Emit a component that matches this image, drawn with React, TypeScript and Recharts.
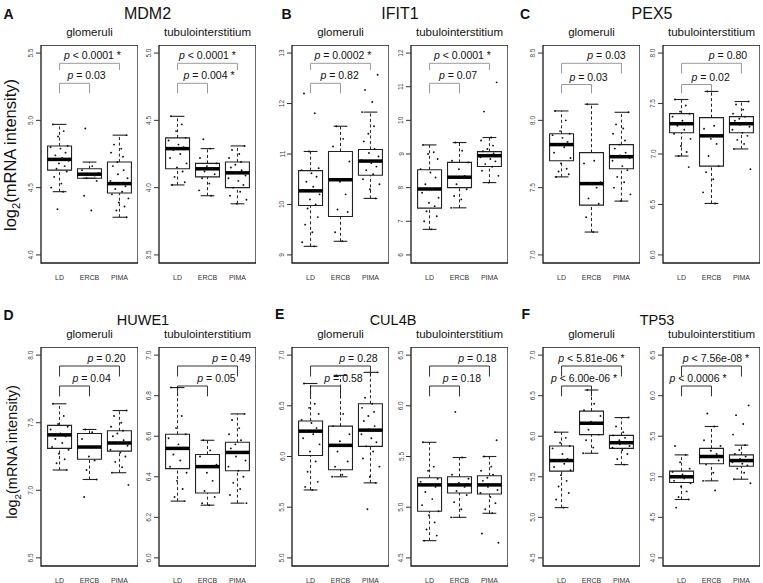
import React from 'react';
import { ComposedChart, XAxis, YAxis, Scatter, ReferenceArea, ReferenceLine, ReferenceDot } from 'recharts';

const GROUPS = ['LD', 'ERCB', 'PIMA'];

// Box stats per group: [lower whisker, Q1, median, Q3, upper whisker]
// ---------- A  MDM2 ----------
const mdm2GlomTicks = ['4.0', '4.5', '5.0', '5.5'];
const mdm2GlomBox = [[4.47, 4.63, 4.71, 4.81, 4.97], [4.57, 4.57, 4.60, 4.64, 4.69], [4.28, 4.46, 4.53, 4.69, 4.89]];
const mdm2GlomDots = [
  [4.97, 4.92, 4.88, 4.81, 4.80, 4.79, 4.76, 4.74, 4.72, 4.71, 4.70, 4.68, 4.66, 4.64, 4.62, 4.58, 4.53, 4.50, 4.47, 4.34],
  [4.94, 4.66, 4.63, 4.61, 4.60, 4.59, 4.57, 4.55, 4.44, 4.33],
  [4.89, 4.82, 4.79, 4.76, 4.73, 4.69, 4.66, 4.63, 4.60, 4.57, 4.55, 4.53, 4.51, 4.49, 4.47, 4.45, 4.42, 4.39, 4.36, 4.33, 4.28],
];
const mdm2GlomP = ['p = 0.03', 'p < 0.0001 *'];

const mdm2TubTicks = ['3.5', '4.0', '4.5', '5.0'];
const mdm2TubBox = [[4.02, 4.14, 4.29, 4.37, 4.53], [3.94, 4.08, 4.14, 4.18, 4.29], [3.88, 4.00, 4.11, 4.19, 4.31]];
const mdm2TubDots = [
  [4.53, 4.47, 4.42, 4.37, 4.35, 4.32, 4.30, 4.28, 4.25, 4.22, 4.18, 4.15, 4.12, 4.08, 4.04, 4.02],
  [4.36, 4.29, 4.22, 4.18, 4.16, 4.14, 4.12, 4.10, 4.07, 4.03, 3.98, 3.94],
  [4.31, 4.28, 4.25, 4.22, 4.19, 4.17, 4.15, 4.13, 4.11, 4.09, 4.07, 4.05, 4.02, 4.00, 3.97, 3.94, 3.91, 3.88],
];
const mdm2TubP = ['p = 0.004 *', 'p < 0.0001 *'];

// ---------- B  IFIT1 ----------
const ifit1GlomTicks = ['9', '10', '11', '12', '13'];
const ifit1GlomBox = [[9.17, 9.98, 10.27, 10.67, 11.05], [9.27, 9.76, 10.49, 11.05, 11.55], [10.12, 10.58, 10.86, 11.09, 11.83]];
const ifit1GlomDots = [
  [12.20, 11.81, 11.05, 10.72, 10.68, 10.62, 10.55, 10.45, 10.35, 10.27, 10.20, 10.10, 10.00, 9.92, 9.75, 9.60, 9.45, 9.25, 9.17],
  [11.55, 11.30, 11.15, 10.85, 10.45, 10.20, 9.90, 9.85, 9.45, 9.27],
  [12.57, 12.27, 12.03, 11.83, 11.55, 11.40, 11.25, 11.10, 11.02, 10.95, 10.88, 10.82, 10.75, 10.68, 10.60, 10.50, 10.40, 10.30, 10.12],
];
const ifit1GlomP = ['p = 0.82', 'p = 0.0002 *'];

const ifit1TubTicks = ['6', '7', '8', '9', '10', '11', '12'];
const ifit1TubBox = [[6.76, 7.39, 7.96, 8.53, 9.27], [7.40, 8.00, 8.31, 8.75, 9.34], [8.15, 8.63, 8.95, 9.07, 9.49]];
const ifit1TubDots = [
  [9.27, 9.05, 9.00, 8.85, 8.55, 8.45, 8.30, 8.10, 7.96, 7.85, 7.70, 7.55, 7.45, 7.30, 7.15, 7.00, 6.76],
  [9.34, 9.10, 8.80, 8.75, 8.55, 8.35, 8.10, 7.95, 7.75, 7.65, 7.40],
  [11.13, 10.26, 9.49, 9.40, 9.25, 9.15, 9.08, 9.02, 8.98, 8.95, 8.90, 8.85, 8.78, 8.70, 8.62, 8.50, 8.35, 8.15],
];
const ifit1TubP = ['p = 0.07', 'p < 0.0001 *'];

// ---------- C  PEX5 ----------
const pex5GlomTicks = ['7.0', '7.5', '8.0', '8.5'];
const pex5GlomBox = [[7.58, 7.70, 7.82, 7.90, 8.07], [7.17, 7.37, 7.53, 7.76, 8.12], [7.40, 7.64, 7.73, 7.82, 8.06]];
const pex5GlomDots = [
  [8.07, 8.00, 7.92, 7.90, 7.89, 7.87, 7.84, 7.82, 7.80, 7.76, 7.72, 7.68, 7.64, 7.62, 7.60, 7.58],
  [8.12, 7.70, 7.68, 7.54, 7.53, 7.50, 7.42, 7.38, 7.28, 7.17],
  [8.06, 7.97, 7.94, 7.90, 7.85, 7.82, 7.79, 7.76, 7.74, 7.72, 7.70, 7.66, 7.63, 7.58, 7.54, 7.50, 7.45, 7.40],
];
const pex5GlomP = ['p = 0.03', 'p = 0.03'];

const pex5TubTicks = ['6.0', '6.5', '7.0', '7.5', '8.0'];
const pex5TubBox = [[6.98, 7.21, 7.30, 7.40, 7.54], [6.51, 6.88, 7.18, 7.36, 7.62], [7.05, 7.21, 7.30, 7.37, 7.52]];
const pex5TubDots = [
  [7.54, 7.48, 7.42, 7.40, 7.37, 7.33, 7.30, 7.28, 7.24, 7.20, 7.15, 7.08, 7.02, 6.98, 6.87],
  [7.62, 7.28, 7.25, 7.18, 7.15, 7.10, 6.98, 6.88, 6.82, 6.75, 6.62, 6.51],
  [7.52, 7.49, 7.44, 7.40, 7.37, 7.35, 7.33, 7.31, 7.29, 7.27, 7.24, 7.21, 7.18, 7.14, 7.10, 7.05, 6.85],
];
const pex5TubP = ['p = 0.02', 'p = 0.80'];

// ---------- D  HUWE1 ----------
const huwe1GlomTicks = ['6.5', '7.0', '7.5', '8.0'];
const huwe1GlomBox = [[7.15, 7.31, 7.41, 7.48, 7.64], [7.08, 7.23, 7.32, 7.42, 7.45], [7.13, 7.29, 7.35, 7.44, 7.59]];
const huwe1GlomDots = [
  [7.64, 7.55, 7.49, 7.47, 7.45, 7.42, 7.40, 7.38, 7.35, 7.32, 7.30, 7.27, 7.23, 7.20, 7.15],
  [7.45, 7.43, 7.38, 7.32, 7.25, 7.22, 7.15, 7.08, 6.95],
  [7.59, 7.55, 7.50, 7.47, 7.44, 7.42, 7.40, 7.37, 7.35, 7.33, 7.30, 7.28, 7.25, 7.21, 7.17, 7.13, 7.04],
];
const huwe1GlomP = ['p = 0.04', 'p = 0.20'];

const huwe1TubTicks = ['6.0', '6.2', '6.4', '6.6', '6.8', '7.0'];
const huwe1TubBox = [[6.28, 6.44, 6.54, 6.61, 6.84], [6.26, 6.32, 6.45, 6.51, 6.58], [6.27, 6.43, 6.52, 6.57, 6.71]];
const huwe1TubDots = [
  [6.84, 6.70, 6.64, 6.61, 6.59, 6.56, 6.54, 6.51, 6.48, 6.45, 6.42, 6.38, 6.34, 6.30, 6.28],
  [6.58, 6.53, 6.50, 6.46, 6.42, 6.38, 6.33, 6.30, 6.27, 6.26],
  [6.71, 6.68, 6.64, 6.61, 6.58, 6.56, 6.54, 6.52, 6.50, 6.48, 6.45, 6.43, 6.40, 6.37, 6.34, 6.31, 6.27],
];
const huwe1TubP = ['p = 0.05', 'p = 0.49'];

// ---------- E  CUL4B ----------
const cul4bGlomTicks = ['5.0', '5.5', '6.0', '6.5', '7.0'];
const cul4bGlomBox = [[5.67, 6.01, 6.25, 6.35, 6.72], [5.80, 5.87, 6.11, 6.30, 6.80], [5.74, 6.10, 6.26, 6.52, 6.83]];
const cul4bGlomDots = [
  [6.72, 6.52, 6.48, 6.42, 6.36, 6.33, 6.28, 6.25, 6.22, 6.18, 6.12, 6.05, 5.95, 5.85, 5.75, 5.70, 5.67],
  [6.80, 6.42, 6.30, 6.22, 6.15, 6.11, 6.05, 5.95, 5.90, 5.82, 5.80],
  [6.83, 6.58, 6.52, 6.48, 6.44, 6.40, 6.35, 6.30, 6.27, 6.25, 6.22, 6.18, 6.14, 6.10, 6.05, 5.98, 5.90, 5.80, 5.74, 5.48],
];
const cul4bGlomP = ['p = 0.58', 'p = 0.28'];

const cul4bTubTicks = ['4.5', '5.0', '5.5', '6.0', '6.5'];
const cul4bTubBox = [[4.67, 4.96, 5.22, 5.29, 5.64], [4.90, 5.14, 5.22, 5.30, 5.49], [4.94, 5.13, 5.22, 5.31, 5.50]];
const cul4bTubDots = [
  [5.64, 5.40, 5.36, 5.28, 5.25, 5.22, 5.20, 5.15, 5.08, 5.02, 4.96, 4.92, 4.85, 4.78, 4.72, 4.67],
  [5.94, 5.49, 5.32, 5.28, 5.24, 5.20, 5.16, 5.12, 5.05, 4.98, 4.90],
  [5.66, 5.50, 5.40, 5.36, 5.32, 5.29, 5.26, 5.23, 5.20, 5.17, 5.14, 5.10, 5.04, 4.98, 4.94, 4.74, 4.65],
];
const cul4bTubP = ['p = 0.18', 'p = 0.18'];

// ---------- F  TP53 ----------
const tp53GlomTicks = ['4.5', '5.0', '5.5', '6.0', '6.5', '7.0'];
const tp53GlomBox = [[5.12, 5.57, 5.70, 5.88, 6.05], [5.79, 6.02, 6.16, 6.31, 6.57], [5.65, 5.85, 5.92, 6.01, 6.23]];
const tp53GlomDots = [
  [6.05, 5.98, 5.92, 5.88, 5.85, 5.78, 5.72, 5.70, 5.66, 5.62, 5.58, 5.52, 5.45, 5.38, 5.30, 5.22, 5.12],
  [6.57, 6.40, 6.32, 6.25, 6.18, 6.15, 6.08, 6.02, 5.95, 5.86, 5.79],
  [6.23, 6.12, 6.05, 6.01, 5.98, 5.95, 5.93, 5.91, 5.90, 5.88, 5.86, 5.83, 5.78, 5.72, 5.65],
];
const tp53GlomP = ['p < 6.00e-06 *', 'p < 5.81e-06 *'];

const tp53TubTicks = ['4.0', '4.5', '5.0', '5.5', '6.0', '6.5'];
const tp53TubBox = [[4.72, 4.93, 5.00, 5.07, 5.27], [4.95, 5.16, 5.25, 5.35, 5.62], [4.97, 5.13, 5.20, 5.27, 5.39]];
const tp53TubDots = [
  [5.38, 5.27, 5.18, 5.10, 5.06, 5.03, 5.01, 5.00, 4.98, 4.95, 4.92, 4.88, 4.82, 4.75, 4.72, 4.62],
  [5.78, 5.62, 5.45, 5.38, 5.32, 5.28, 5.25, 5.20, 5.15, 5.05, 4.95, 4.83],
  [5.88, 5.76, 5.65, 5.52, 5.39, 5.33, 5.28, 5.25, 5.22, 5.20, 5.18, 5.16, 5.14, 5.10, 5.05, 4.97, 4.92],
];
const tp53TubP = ['p < 0.0006 *', 'p < 7.56e-08 *'];

const GENES = ['MDM2', 'IFIT1', 'PEX5', 'HUWE1', 'CUL4B', 'TP53'];
const LETTERS = ['A', 'B', 'C', 'D', 'E', 'F'];
const TISSUES = ['glomeruli', 'tubulointerstitium'];
const Y_LABEL = ['log', '2', '(mRNA intensity)'];

// ---------- layout / style ----------
const FONT = '"Liberation Sans", Arial, Helvetica, sans-serif';
const JITTER = [-0.22, 0.14, -0.05, 0.27, -0.3, 0.03, 0.2, -0.14, 0.09, -0.25, 0.3, -0.02, 0.17, -0.1, 0.24, -0.18, 0.06, -0.28, 0.12, -0.07];
const XMIN = 0.38;
const XMAX = 3.62;
const YW = 24;
const XH = 20;
const FW = 97;
const COL_G = [41, 292, 543];
const COL_T = [159, 411, 663];
const ROWS = [{ top: 45, h: 218 }, { top: 347, h: 219 }];
const BR_AB = [18.3, 25, 38.3, 48.3];
const BR_C = [18.3, 28.5, 39.5, 48.3];
const BR_2 = [19, 29.5, 39, 49.3];

const PANELS = [
  { d: { t: mdm2GlomTicks, b: mdm2GlomBox, s: mdm2GlomDots, p: mdm2GlomP }, col: 0, row: 0, tis: 0, br: BR_AB, tx: [1.9, 2.1], bc: '#9a9a9a' },
  { d: { t: mdm2TubTicks, b: mdm2TubBox, s: mdm2TubDots, p: mdm2TubP }, col: 0, row: 0, tis: 1, br: BR_AB, tx: [2.05, 2.0], bc: '#9a9a9a' },
  { d: { t: ifit1GlomTicks, b: ifit1GlomBox, s: ifit1GlomDots, p: ifit1GlomP }, col: 1, row: 0, tis: 0, br: BR_AB, tx: [1.97, 2.08], bc: '#9a9a9a' },
  { d: { t: ifit1TubTicks, b: ifit1TubBox, s: ifit1TubDots, p: ifit1TubP }, col: 1, row: 0, tis: 1, br: BR_AB, tx: [1.95, 2.1], bc: '#9a9a9a' },
  { d: { t: pex5GlomTicks, b: pex5GlomBox, s: pex5GlomDots, p: pex5GlomP }, col: 2, row: 0, tis: 0, br: BR_C, tx: [1.9, 2.5], bc: '#9a9a9a' },
  { d: { t: pex5TubTicks, b: pex5TubBox, s: pex5TubDots, p: pex5TubP }, col: 2, row: 0, tis: 1, br: BR_C, tx: [1.97, 2.55], bc: '#9a9a9a' },
  { d: { t: huwe1GlomTicks, b: huwe1GlomBox, s: huwe1GlomDots, p: huwe1GlomP }, col: 0, row: 1, tis: 0, br: BR_2, tx: [2.07, 2.57], bc: '#333' },
  { d: { t: huwe1TubTicks, b: huwe1TubBox, s: huwe1TubDots, p: huwe1TubP }, col: 0, row: 1, tis: 1, br: BR_2, tx: [2.3, 2.8], bc: '#333' },
  { d: { t: cul4bGlomTicks, b: cul4bGlomBox, s: cul4bGlomDots, p: cul4bGlomP }, col: 1, row: 1, tis: 0, br: BR_2, tx: [2.1, 2.6], bc: '#333' },
  { d: { t: cul4bTubTicks, b: cul4bTubBox, s: cul4bTubDots, p: cul4bTubP }, col: 1, row: 1, tis: 1, br: BR_2, tx: [2.08, 2.6], bc: '#333' },
  { d: { t: tp53GlomTicks, b: tp53GlomBox, s: tp53GlomDots, p: tp53GlomP }, col: 2, row: 1, tis: 0, br: BR_2, tx: [1.75, 2.0], bc: '#333' },
  { d: { t: tp53TubTicks, b: tp53TubBox, s: tp53TubDots, p: tp53TubP }, col: 2, row: 1, tis: 1, br: BR_2, tx: [1.55, 2.15], bc: '#333' },
];

const TITLE_POS = [
  { x: 147.5, y: 18.5, size: 16 }, { x: 400, y: 18.5, size: 16 }, { x: 652, y: 18.5, size: 16 },
  { x: 143, y: 325, size: 14.5 }, { x: 393, y: 325, size: 14.5 }, { x: 657, y: 325, size: 14.5 },
];
const LETTER_POS = [
  { x: 3.5, y: 18.5 }, { x: 281.5, y: 18.5 }, { x: 520, y: 18.5 },
  { x: 3.5, y: 319.5 }, { x: 275, y: 318.5 }, { x: 521.5, y: 318.5 },
];

function PLabel(props: any) {
  const { viewBox, text } = props;
  if (!viewBox) return null;
  const cx = viewBox.x + viewBox.width / 2;
  const cy = viewBox.y + viewBox.height / 2;
  return (
    <text x={cx} y={cy - 4} textAnchor="middle" fontFamily={FONT} fontSize={10.5} fill="#111">
      <tspan fontStyle="italic">{text.slice(0, 1)}</tspan>
      <tspan>{text.slice(1)}</tspan>
    </text>
  );
}

function BoxPanel({ panel }: any) {
  const { d, col, row, tis, br, tx, bc } = panel;
  const tv = d.t.map((s: string) => parseFloat(s));
  const lo = tv[0];
  const hi = tv[tv.length - 1];
  const pad = (hi - lo) * 0.04;
  const dMin = lo - pad;
  const dMax = hi + pad;
  const left = tis === 0 ? COL_G[col] : COL_T[col];
  const { top, h } = ROWS[row];
  const toY = (off: number) => dMax - (off / h) * (dMax - dMin);

  const scatterData = d.s.flatMap((vals: number[], g: number) =>
    vals.map((v: number, k: number) => ({ x: g + 1 + JITTER[(k + g * 7) % JITTER.length], y: v }))
  );

  const yTick = (p: any) => {
    const idx = tv.findIndex((v: number) => Math.abs(v - p.payload.value) < 1e-9);
    const lbl = idx >= 0 ? d.t[idx] : String(p.payload.value);
    const x = p.x - 0.5;
    return (
      <text x={x} y={p.y} transform={`rotate(-90, ${x}, ${p.y})`} textAnchor="middle" fontFamily={FONT} fontSize={6.5} fill="#444">
        {lbl}
      </text>
    );
  };
  const xTick = (p: any) => (
    <text x={p.x} y={p.y + 17} textAnchor="middle" fontFamily={FONT} fontSize={7} fill="#333">
      {GROUPS[Math.round(p.payload.value) - 1]}
    </text>
  );

  const [upY, upLeg, lowY, lowLeg] = br.map(toY);
  const bw = 0.4;
  const cw = 0.23;

  return (
    <div style={{ position: 'absolute', left: left - YW, top }}>
      <ComposedChart width={YW + FW} height={h + XH} margin={{ top: 0, right: 0, bottom: 0, left: 0 }}>
        <XAxis
          type="number"
          dataKey="x"
          domain={[XMIN, XMAX]}
          ticks={[1, 2, 3]}
          allowDataOverflow
          axisLine={false}
          tickLine={false}
          tickSize={0}
          tickMargin={0}
          height={XH}
          interval={0}
          tick={xTick}
        />
        <YAxis
          type="number"
          dataKey="y"
          domain={[dMin, dMax]}
          ticks={tv}
          allowDataOverflow
          axisLine={false}
          tickLine={{ stroke: '#333' }}
          tickSize={5}
          tickMargin={2}
          width={YW}
          interval={0}
          tick={yTick}
        />
        <ReferenceArea x1={XMIN} x2={XMAX} y1={dMin} y2={dMax} fill="none" stroke="#1a1a1a" strokeWidth={1.3} ifOverflow="visible" />
        {/* significance brackets */}
        <ReferenceLine segment={[{ x: 1, y: upY }, { x: 3, y: upY }]} stroke={bc} strokeWidth={1} ifOverflow="visible" />
        <ReferenceLine segment={[{ x: 1, y: upY }, { x: 1, y: upLeg }]} stroke={bc} strokeWidth={1} ifOverflow="visible" />
        <ReferenceLine segment={[{ x: 3, y: upY }, { x: 3, y: upLeg }]} stroke={bc} strokeWidth={1} ifOverflow="visible" />
        <ReferenceLine segment={[{ x: 1, y: lowY }, { x: 2, y: lowY }]} stroke={bc} strokeWidth={1} ifOverflow="visible" />
        <ReferenceLine segment={[{ x: 1, y: lowY }, { x: 1, y: lowLeg }]} stroke={bc} strokeWidth={1} ifOverflow="visible" />
        <ReferenceLine segment={[{ x: 2, y: lowY }, { x: 2, y: lowLeg }]} stroke={bc} strokeWidth={1} ifOverflow="visible" />
        <ReferenceDot x={tx[1]} y={upY} r={1} fill="none" stroke="none" ifOverflow="visible" label={<PLabel text={d.p[1]} />} />
        <ReferenceDot x={tx[0]} y={lowY} r={1} fill="none" stroke="none" ifOverflow="visible" label={<PLabel text={d.p[0]} />} />
        {/* box plots */}
        {d.b.map((st: number[], g: number) => {
          const c = g + 1;
          const [wl, q1, md, q3, wh] = st;
          return (
            <React.Fragment key={`b${g}`}>
              <ReferenceLine segment={[{ x: c, y: q3 }, { x: c, y: wh }]} stroke="#222" strokeWidth={1} strokeDasharray="3 2.5" ifOverflow="visible" />
              <ReferenceLine segment={[{ x: c, y: wl }, { x: c, y: q1 }]} stroke="#222" strokeWidth={1} strokeDasharray="3 2.5" ifOverflow="visible" />
              <ReferenceLine segment={[{ x: c - cw, y: wh }, { x: c + cw, y: wh }]} stroke="#222" strokeWidth={1.1} ifOverflow="visible" />
              <ReferenceLine segment={[{ x: c - cw, y: wl }, { x: c + cw, y: wl }]} stroke="#222" strokeWidth={1.1} ifOverflow="visible" />
              <ReferenceArea x1={c - bw} x2={c + bw} y1={q1} y2={q3} fill="none" stroke="#222" strokeWidth={1.1} ifOverflow="visible" />
              <ReferenceLine segment={[{ x: c - bw, y: md }, { x: c + bw, y: md }]} stroke="#000" strokeWidth={3.5} ifOverflow="visible" />
            </React.Fragment>
          );
        })}
        <Scatter
          data={scatterData}
          isAnimationActive={false}
          shape={(p: any) => <circle cx={p.cx} cy={p.cy} r={0.95} fill="#111" />}
        />
      </ComposedChart>
    </div>
  );
}

export default function App() {
  return (
    <div style={{ position: 'absolute', left: 0, top: 0, width: 763, height: 583, overflow: 'hidden', background: '#fff' }}>
      {PANELS.map((p, i) => (
        <BoxPanel key={i} panel={p} />
      ))}
      <svg width={763} height={583} style={{ position: 'absolute', left: 0, top: 0, pointerEvents: 'none' }}>
        {GENES.map((g, i) => (
          <text key={`g${i}`} x={TITLE_POS[i].x} y={TITLE_POS[i].y} textAnchor="middle" fontFamily={FONT} fontSize={TITLE_POS[i].size} fill="#111">
            {g}
          </text>
        ))}
        {LETTERS.map((l, i) => (
          <text key={`l${i}`} x={LETTER_POS[i].x} y={LETTER_POS[i].y} fontFamily={FONT} fontWeight="bold" fontSize={14} fill="#111">
            {l}
          </text>
        ))}
        {[0, 1].map((r) =>
          [0, 1, 2].map((c) => (
            <React.Fragment key={`t${r}${c}`}>
              <text x={COL_G[c] + FW / 2} y={r === 0 ? 35.5 : 338} textAnchor="middle" fontFamily={FONT} fontSize={11.5} fill="#111">
                {TISSUES[0]}
              </text>
              <text x={COL_T[c] + FW / 2} y={r === 0 ? 35.5 : 338} textAnchor="middle" fontFamily={FONT} fontSize={11.5} fill="#111">
                {TISSUES[1]}
              </text>
            </React.Fragment>
          ))
        )}
        {[{ x: 15.5, y: 155, s: 16.5 }, { x: 17, y: 452, s: 14.5 }].map((p, i) => (
          <text key={`y${i}`} x={p.x} y={p.y} transform={`rotate(-90, ${p.x}, ${p.y})`} textAnchor="middle" fontFamily={FONT} fontSize={p.s} fill="#111">
            <tspan>{Y_LABEL[0]}</tspan>
            <tspan fontSize={p.s * 0.68} dy={p.s * 0.3}>{Y_LABEL[1]}</tspan>
            <tspan dy={-p.s * 0.3}>{Y_LABEL[2]}</tspan>
          </text>
        ))}
      </svg>
    </div>
  );
}
